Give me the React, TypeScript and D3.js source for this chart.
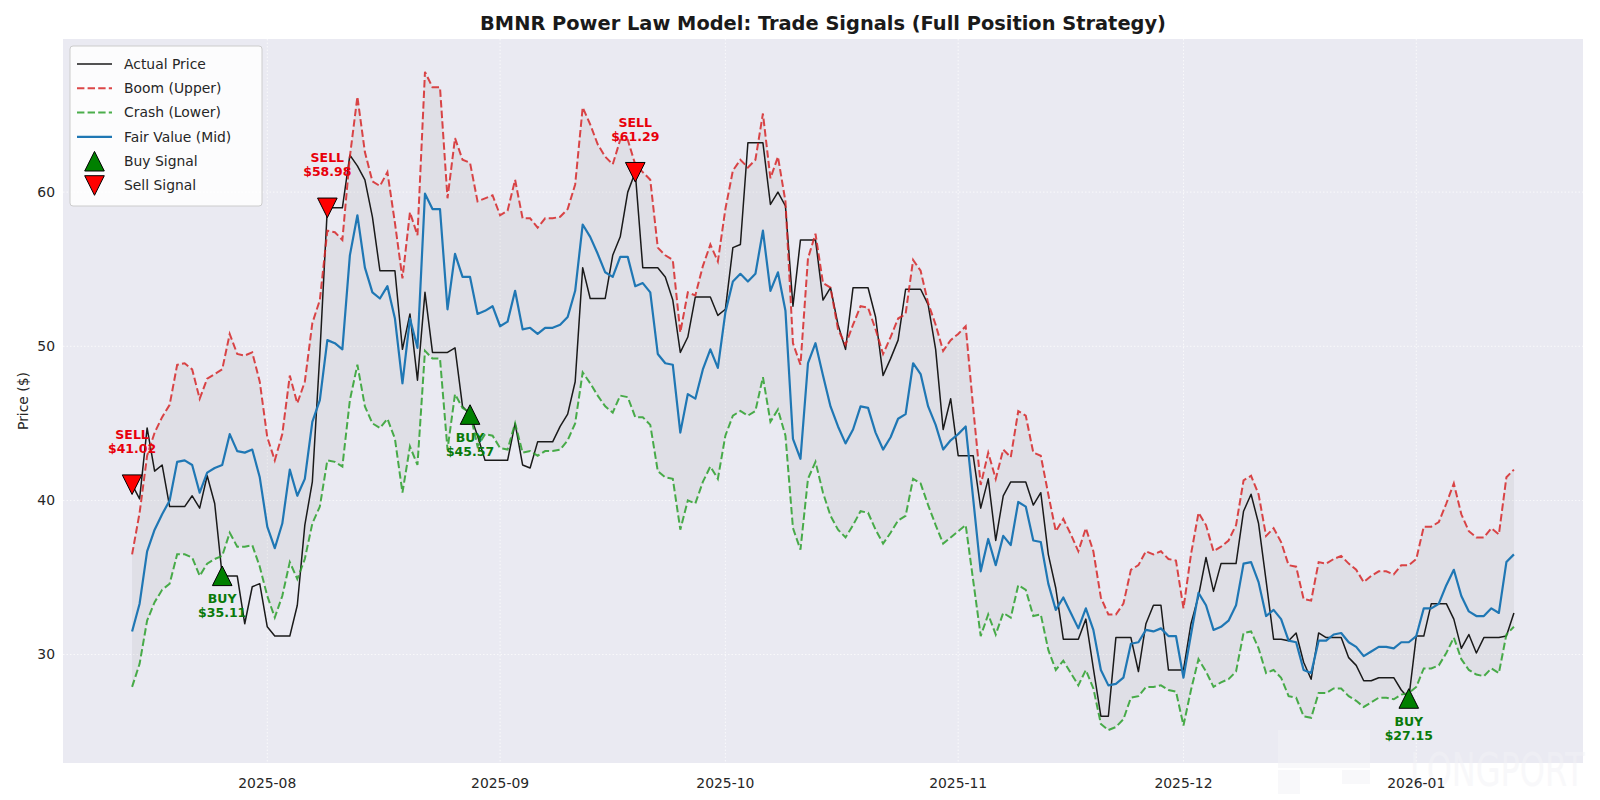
import React, { useEffect, useRef } from 'react';
import * as d3 from 'd3';

// daily series, first point 2025-07-14
const startDate = new Date(2025, 6, 14);

const actualPrice = [
  41.02, 40.1, 44.7, 41.9, 42.3, 39.6, 39.6, 39.6, 40.3, 39.5,
  41.6, 39.8, 35.11, 35.1, 35.1, 32.0, 34.4, 34.6, 31.8, 31.2,
  31.2, 31.2, 33.2, 38.4, 41.2, 49.5, 58.98, 58.98, 58.98, 62.4,
  61.7, 60.8, 58.4, 54.9, 54.9, 54.9, 49.8, 52.1, 47.8, 53.5,
  49.6, 49.6, 49.6, 49.9, 46.1, 45.57, 44.2, 42.6, 42.6, 42.6,
  42.6, 45.0, 42.3, 42.1, 43.8, 43.8, 43.8, 44.8, 45.6, 47.7,
  55.1, 53.1, 53.1, 53.1, 55.9, 57.1, 60.0, 61.29, 55.1, 55.1,
  55.1, 54.5, 53.0, 49.6, 50.6, 53.2, 53.2, 53.2, 52.0, 52.4,
  56.4, 56.6, 63.2, 63.2, 63.2, 59.2, 60.0, 59.1, 52.6, 56.9,
  56.9, 56.9, 53.0, 53.8, 51.4, 49.8, 53.8, 53.8, 53.8, 51.9,
  48.1, 49.2, 50.4, 53.7, 53.7, 53.7, 52.7, 49.8, 44.6, 46.6,
  42.9, 42.9, 42.9, 39.5, 41.4, 37.4, 40.3, 41.2, 41.2, 41.2,
  39.7, 40.5, 36.5, 34.3, 31.0, 31.0, 31.0, 32.3, 29.1, 26.0,
  26.0, 31.1, 31.1, 31.1, 28.9, 32.0, 33.2, 33.2, 29.0, 29.0,
  29.0, 32.0, 33.8, 36.3, 34.1, 35.9, 35.9, 35.9, 39.3, 40.4,
  38.5, 34.8, 31.0, 31.0, 30.9, 31.4, 29.5, 28.4, 31.4, 31.1,
  31.1, 31.1, 29.8, 29.3, 28.3, 28.3, 28.5, 28.5, 28.5, 27.7,
  27.15, 31.2, 31.2, 33.3, 33.3, 33.3, 32.3, 30.4, 31.3, 30.1,
  31.1, 31.1, 31.1, 31.2, 32.7,
];

const boomUpper = [
  36.5, 39.2, 42.9, 44.4, 45.4, 46.2, 48.8, 48.9, 48.5, 46.6,
  47.9, 48.2, 48.5, 50.8, 49.5, 49.4, 49.6, 47.7, 44.1, 42.6,
  44.3, 48.1, 46.3, 47.7, 51.5, 53.0, 57.5, 57.4, 56.9, 62.3,
  66.2, 62.6, 60.7, 60.4, 61.3, 58.0, 54.4, 58.7, 57.2, 67.8,
  66.8, 66.8, 59.6, 63.5, 62.1, 61.9, 59.4, 59.6, 59.8, 58.5,
  58.8, 60.8, 58.3, 58.3, 57.7, 58.3, 58.3, 58.4, 58.9, 60.5,
  65.5, 64.4, 63.1, 62.3, 61.8, 63.4, 63.4, 61.8, 61.3, 60.8,
  56.4, 55.9, 55.6, 50.9, 53.5, 53.3, 55.2, 56.6, 55.5, 58.9,
  61.4, 62.1, 61.6, 62.1, 65.1, 60.9, 62.3, 59.4, 50.2, 48.8,
  55.7, 57.3, 54.1, 53.8, 51.1, 50.1, 51.4, 52.6, 52.5, 51.1,
  49.5, 50.6, 51.8, 52.1, 55.6, 54.9, 52.8, 51.4, 49.7, 50.4,
  50.8, 51.3, 46.0, 41.0, 43.1, 41.4, 43.3, 42.8, 45.8, 45.5,
  43.1, 42.9, 40.4, 38.0, 38.8, 37.8, 36.7, 38.2, 36.7, 33.7,
  32.6, 32.6, 33.3, 35.5, 35.8, 36.7, 36.5, 36.7, 36.2, 36.1,
  33.0, 36.5, 39.2, 38.4, 36.7, 37.0, 37.4, 38.4, 41.3, 41.6,
  40.4, 37.7, 38.2, 37.3, 35.8, 35.7, 33.6, 33.5, 36.0, 35.9,
  36.2, 36.4, 35.9, 35.5, 34.7, 35.1, 35.4, 35.4, 35.2, 35.8,
  35.8, 36.2, 38.3, 38.3, 38.6, 39.8, 41.1, 39.1, 38.0, 37.6,
  37.6, 38.2, 37.8, 41.5, 42.0,
];

const crashLower = [
  27.9, 29.4, 32.2, 33.4, 34.2, 34.6, 36.5, 36.5, 36.3, 35.1,
  35.9, 36.2, 36.4, 37.9, 37.0, 37.0, 37.1, 35.7, 33.8, 32.4,
  33.8, 36.0, 34.9, 36.2, 38.5, 39.6, 42.6, 42.5, 42.2, 46.5,
  48.8, 46.1, 45.0, 44.7, 45.3, 44.0, 40.5, 43.5, 42.3, 49.7,
  49.2, 49.2, 43.3, 46.9, 46.0, 45.7, 43.5, 44.3, 44.2, 43.4,
  43.3, 45.0, 43.1, 43.2, 42.9, 43.2, 43.2, 43.3, 43.9, 45.0,
  48.3, 47.6, 46.8, 46.1, 45.7, 46.8, 46.7, 45.4, 45.4, 44.9,
  41.9, 41.5, 41.4, 38.1, 40.0, 39.8, 41.2, 42.2, 41.4, 44.2,
  45.5, 45.8, 45.5, 45.8, 48.0, 45.1, 45.9, 44.2, 38.2, 36.8,
  41.4, 42.5, 40.5, 39.0, 38.1, 37.6, 38.4, 39.3, 39.2, 38.1,
  37.2, 37.9, 38.7, 39.0, 41.4, 41.1, 39.7, 38.4, 37.2, 37.6,
  38.0, 38.4, 34.8, 31.2, 32.6, 31.3, 32.7, 32.4, 34.5, 34.2,
  32.5, 32.6, 30.3, 29.0, 29.6, 28.8, 28.0, 29.0, 27.8, 25.5,
  25.1, 25.3, 25.8, 27.2, 27.3, 27.9, 27.9, 28.0, 27.7, 27.6,
  25.4, 27.7, 29.7, 28.9, 27.9, 28.2, 28.4, 28.9, 31.4, 31.5,
  30.4, 28.8, 29.0, 28.5, 27.3, 27.2, 26.0, 25.9, 27.5, 27.5,
  27.8, 27.8, 27.3, 27.0, 26.6, 26.9, 27.2, 27.2, 27.1, 27.4,
  27.5, 27.9, 29.1, 29.1, 29.3, 30.1, 31.1, 29.7, 29.0, 28.7,
  28.6, 29.1, 28.8, 31.3, 31.8,
];

const fairValue = [
  31.5, 33.3, 36.7, 38.1, 39.1, 40.0, 42.5, 42.6, 42.3, 40.5,
  41.8, 42.1, 42.3, 44.3, 43.2, 43.1, 43.3, 41.5, 38.3, 36.9,
  38.5, 42.0, 40.3, 41.4, 45.1, 46.5, 50.4, 50.2, 49.8, 55.9,
  58.5, 55.1, 53.5, 53.1, 53.9, 51.8, 47.6, 51.8, 49.9, 59.9,
  58.9, 58.9, 52.4, 56.0, 54.5, 54.5, 52.1, 52.3, 52.6, 51.3,
  51.6, 53.6, 51.1, 51.2, 50.8, 51.2, 51.2, 51.4, 51.9, 53.6,
  57.9, 57.1, 56.0, 54.8, 54.5, 55.8, 55.8, 53.9, 54.1, 53.5,
  49.5, 48.9, 48.8, 44.4, 46.9, 46.6, 48.5, 49.8, 48.6, 52.2,
  54.2, 54.7, 54.2, 54.7, 57.5, 53.6, 54.8, 52.3, 44.0, 42.7,
  48.9, 50.2, 48.1, 46.1, 44.8, 43.7, 44.6, 46.1, 46.0, 44.4,
  43.3, 44.1, 45.3, 45.6, 48.9, 48.2, 46.1, 44.9, 43.3, 43.9,
  44.3, 44.8, 40.1, 35.4, 37.5, 35.8, 37.7, 37.1, 39.9, 39.6,
  37.4, 37.3, 34.6, 32.9, 33.7, 32.7, 31.7, 33.0, 31.6, 29.0,
  28.0, 28.1, 28.5, 30.7, 30.8, 31.6, 31.5, 31.7, 31.2, 31.2,
  28.5, 31.3, 34.0, 33.2, 31.6, 31.8, 32.2, 33.2, 35.9, 36.0,
  34.7, 32.5, 32.9, 32.3, 30.9, 30.8, 29.0, 28.8, 30.9, 30.9,
  31.3, 31.4, 30.8, 30.5, 29.9, 30.2, 30.5, 30.5, 30.4, 30.8,
  30.8, 31.2, 33.0, 33.0, 33.3, 34.5, 35.5, 33.8, 32.8, 32.5,
  32.5, 33.0, 32.7, 36.0, 36.5,
];

// trade signals: index into the daily series + fill price
const buySignals = [
  { idx: 12, price: 35.11 },
  { idx: 45, price: 45.57 },
  { idx: 170, price: 27.15 },
];
const sellSignals = [
  { idx: 0, price: 41.02 },
  { idx: 26, price: 58.98 },
  { idx: 67, price: 61.29 },
];

const yTicks = [30, 40, 50, 60];
const legendLabels = [
  'Actual Price',
  'Boom (Upper)',
  'Crash (Lower)',
  'Fair Value (Mid)',
  'Buy Signal',
  'Sell Signal',
];

const W = 1600;
const H = 800;
const FONT = "'DejaVu Sans', 'Liberation Sans', sans-serif";

const triPath = (s: number, up: boolean) => {
  const h = s / 2;
  return up
    ? `M0,${-h}L${h},${h}L${-h},${h}Z`
    : `M0,${h}L${h},${-h}L${-h},${-h}Z`;
};

const App: React.FC = () => {
  const svgRef = useRef<SVGSVGElement>(null);

  useEffect(() => {
    document.body.style.margin = '0';
    if (!svgRef.current) return;
    const svg = d3.select(svgRef.current);
    svg.selectAll('*').remove();

    const margin = { top: 39, right: 17, bottom: 37, left: 63 };
    const x0 = margin.left;
    const x1 = W - margin.right;
    const y0 = H - margin.bottom;
    const y1 = margin.top;

    const dates = actualPrice.map((_, i) => d3.timeDay.offset(startDate, i));
    const tFirst = +dates[0];
    const tLast = +dates[dates.length - 1];
    const tPad = (tLast - tFirst) * 0.05;

    const xScale = d3.scaleTime()
      .domain([new Date(tFirst - tPad), new Date(tLast + tPad)])
      .range([x0, x1]);

    const allVals = [...actualPrice, ...boomUpper, ...crashLower, ...fairValue];
    const vMin = d3.min(allVals) as number;
    const vMax = d3.max(allVals) as number;
    const vPad = (vMax - vMin) * 0.05;
    const yScale = d3.scaleLinear()
      .domain([vMin - vPad, vMax + vPad])
      .range([y0, y1]);

    svg.append('rect')
      .attr('width', W).attr('height', H).attr('fill', '#ffffff');

    svg.append('rect')
      .attr('x', x0).attr('y', y1)
      .attr('width', x1 - x0).attr('height', y0 - y1)
      .attr('fill', '#eaeaf2');

    // grid
    const monthTicks = xScale.ticks(d3.timeMonth.every(1) as d3.TimeInterval);
    const grid = svg.append('g')
      .attr('stroke', '#ffffff')
      .attr('stroke-width', 1)
      .attr('stroke-dasharray', '1.5,2')
      .attr('opacity', 0.75);
    grid.selectAll('line.v')
      .data(monthTicks)
      .enter().append('line')
      .attr('x1', d => xScale(d)).attr('x2', d => xScale(d))
      .attr('y1', y1).attr('y2', y0);
    grid.selectAll('line.h')
      .data(yTicks)
      .enter().append('line')
      .attr('x1', x0).attr('x2', x1)
      .attr('y1', d => yScale(d)).attr('y2', d => yScale(d));

    // faint platform watermark (sits behind the data)
    const wm = svg.append('g').attr('fill', '#f3f3f6').attr('opacity', 0.55);
    wm.append('rect').attr('x', 1278).attr('y', 730).attr('width', 92).attr('height', 38);
    wm.append('rect').attr('x', 1278).attr('y', 770).attr('width', 22).attr('height', 24);
    wm.append('rect').attr('x', 1342).attr('y', 770).attr('width', 28).attr('height', 14);
    wm.append('text')
      .attr('transform', 'translate(1410,786) scale(1,1.45)')
      .attr('font-family', FONT)
      .attr('font-size', 32)
      .text('LONGPORT');

    // band between crash and boom
    const band = d3.area<number>()
      .x((_, i) => xScale(dates[i]))
      .y0((_, i) => yScale(crashLower[i]))
      .y1(d => yScale(d));
    svg.append('path')
      .datum(boomUpper)
      .attr('d', band)
      .attr('fill', '#808080')
      .attr('fill-opacity', 0.1);

    const line = d3.line<number>()
      .x((_, i) => xScale(dates[i]))
      .y(d => yScale(d));

    svg.append('path')
      .datum(actualPrice)
      .attr('d', line)
      .attr('fill', 'none')
      .attr('stroke', '#1a1a1a')
      .attr('stroke-width', 1.5)
      .attr('stroke-linejoin', 'round');

    svg.append('path')
      .datum(boomUpper)
      .attr('d', line)
      .attr('fill', 'none')
      .attr('stroke', '#d62728')
      .attr('stroke-opacity', 0.85)
      .attr('stroke-width', 2)
      .attr('stroke-dasharray', '7.4,3.2');

    svg.append('path')
      .datum(crashLower)
      .attr('d', line)
      .attr('fill', 'none')
      .attr('stroke', '#2ca02c')
      .attr('stroke-opacity', 0.85)
      .attr('stroke-width', 2)
      .attr('stroke-dasharray', '7.4,3.2');

    svg.append('path')
      .datum(fairValue)
      .attr('d', line)
      .attr('fill', 'none')
      .attr('stroke', '#1f77b4')
      .attr('stroke-width', 2.2)
      .attr('stroke-linejoin', 'round');

    // signals
    const mk = 19.6;
    const buyG = svg.append('g');
    buySignals.forEach(s => {
      const cx = xScale(dates[s.idx]);
      const cy = yScale(s.price);
      buyG.append('path')
        .attr('d', triPath(mk, true))
        .attr('transform', `translate(${cx},${cy})`)
        .attr('fill', '#008000')
        .attr('stroke', '#000')
        .attr('stroke-width', 1);
      const t = buyG.append('text')
        .attr('x', cx)
        .attr('text-anchor', 'middle')
        .attr('font-family', FONT)
        .attr('font-size', 12.5)
        .attr('font-weight', 'bold')
        .attr('fill', '#0a7a0a');
      t.append('tspan').attr('x', cx).attr('y', cy + 27.5).text('BUY');
      t.append('tspan').attr('x', cx).attr('y', cy + 41.5).text(`$${s.price.toFixed(2)}`);
    });

    const sellG = svg.append('g');
    sellSignals.forEach(s => {
      const cx = xScale(dates[s.idx]);
      const cy = yScale(s.price);
      sellG.append('path')
        .attr('d', triPath(mk, false))
        .attr('transform', `translate(${cx},${cy})`)
        .attr('fill', '#ff0000')
        .attr('stroke', '#000')
        .attr('stroke-width', 1);
      const t = sellG.append('text')
        .attr('x', cx)
        .attr('text-anchor', 'middle')
        .attr('font-family', FONT)
        .attr('font-size', 12.5)
        .attr('font-weight', 'bold')
        .attr('fill', '#e8000b');
      t.append('tspan').attr('x', cx).attr('y', cy - 45.5).text('SELL');
      t.append('tspan').attr('x', cx).attr('y', cy - 31.5).text(`$${s.price.toFixed(2)}`);
    });

    // axes labels
    svg.append('g').selectAll('text')
      .data(monthTicks)
      .enter().append('text')
      .attr('x', d => xScale(d))
      .attr('y', y0 + 25)
      .attr('text-anchor', 'middle')
      .attr('font-family', FONT)
      .attr('font-size', 13.9)
      .attr('fill', '#262626')
      .text(d => d3.timeFormat('%Y-%m')(d));

    svg.append('g').selectAll('text')
      .data(yTicks)
      .enter().append('text')
      .attr('x', x0 - 8)
      .attr('y', d => yScale(d))
      .attr('dy', '0.35em')
      .attr('text-anchor', 'end')
      .attr('font-family', FONT)
      .attr('font-size', 13.9)
      .attr('fill', '#262626')
      .text(d => String(d));

    svg.append('text')
      .attr('transform', `translate(23,${(y0 + y1) / 2}) rotate(-90)`)
      .attr('text-anchor', 'middle')
      .attr('dy', '0.35em')
      .attr('font-family', FONT)
      .attr('font-size', 13.9)
      .attr('fill', '#262626')
      .text('Price ($)');

    svg.append('text')
      .attr('x', (x0 + x1) / 2)
      .attr('y', 30)
      .attr('text-anchor', 'middle')
      .attr('font-family', FONT)
      .attr('font-size', 19.4)
      .attr('font-weight', 'bold')
      .attr('fill', '#1a1a1a')
      .text('BMNR Power Law Model: Trade Signals (Full Position Strategy)');

    // legend
    const lg = svg.append('g');
    lg.append('rect')
      .attr('x', 70).attr('y', 46)
      .attr('width', 192).attr('height', 160)
      .attr('rx', 3)
      .attr('fill', '#ffffff').attr('fill-opacity', 0.85)
      .attr('stroke', '#cccccc');
    legendLabels.forEach((label, k) => {
      const ry = 64 + k * 24.3;
      const hx0 = 77;
      const hx1 = 112;
      if (k === 0) {
        lg.append('line').attr('x1', hx0).attr('x2', hx1).attr('y1', ry).attr('y2', ry)
          .attr('stroke', '#1a1a1a').attr('stroke-width', 1.5);
      } else if (k === 1 || k === 2) {
        lg.append('line').attr('x1', hx0).attr('x2', hx1).attr('y1', ry).attr('y2', ry)
          .attr('stroke', k === 1 ? '#d62728' : '#2ca02c')
          .attr('stroke-opacity', 0.85)
          .attr('stroke-width', 2)
          .attr('stroke-dasharray', '7.4,3.2');
      } else if (k === 3) {
        lg.append('line').attr('x1', hx0).attr('x2', hx1).attr('y1', ry).attr('y2', ry)
          .attr('stroke', '#1f77b4').attr('stroke-width', 2.2);
      } else {
        lg.append('path')
          .attr('d', triPath(mk, k === 4))
          .attr('transform', `translate(${(hx0 + hx1) / 2},${ry})`)
          .attr('fill', k === 4 ? '#008000' : '#ff0000')
          .attr('stroke', '#000')
          .attr('stroke-width', 1);
      }
      lg.append('text')
        .attr('x', 124)
        .attr('y', ry)
        .attr('dy', '0.35em')
        .attr('font-family', FONT)
        .attr('font-size', 13.9)
        .attr('fill', '#262626')
        .text(label);
    });
  }, []);

  return <svg ref={svgRef} width={W} height={H} style={{ display: 'block' }}></svg>;
};

export default App;
